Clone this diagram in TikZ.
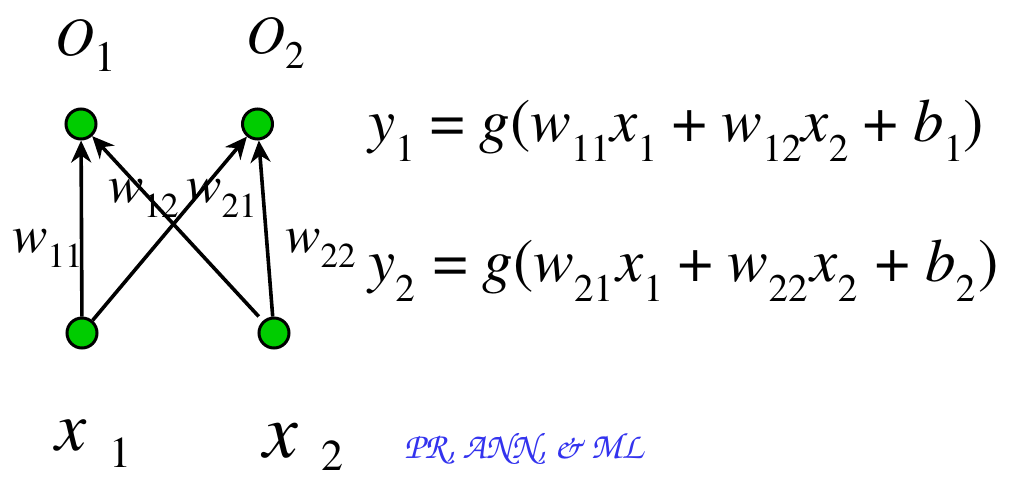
\documentclass[tikz,border=0pt]{standalone}
\usepackage{graphicx}
\usetikzlibrary{arrows.meta}
\definecolor{neurongreen}{RGB}{0,204,0}
\definecolor{signblue}{RGB}{51,51,238}
\newcommand{\tms}{\fontencoding{OT1}\fontfamily{ptm}\fontseries{m}\fontshape{n}\selectfont}
\newcommand{\chancery}{\fontencoding{OT1}\fontfamily{pzc}\fontseries{mb}\fontshape{it}\selectfont}
\newcommand{\eqsub}[1]{\raisebox{-0.34em}{\scalebox{0.64}{#1}}}
\newcommand{\eqsubw}[1]{\raisebox{-0.34em}{\scalebox{0.64}{#1}}\kern3pt\relax}
\newcommand{\lsub}[1]{\raisebox{-0.29em}{\scalebox{0.66}{#1}}}
\tikzset{
  neuron/.style={circle, draw=black, line width=3pt, fill=neurongreen, minimum size=30pt, inner sep=0pt},
  conn/.style={-{Stealth[length=22pt,width=20pt,inset=7pt]}, line width=3.6pt},
  lbl/.style={inner sep=0pt, anchor=base west, font=\tms\fontsize{54}{54}\selectfont},
  wlbl/.style={inner sep=0pt, anchor=base west, font=\tms\fontsize{53}{53}\selectfont},
  eq/.style={inner sep=0pt, anchor=base west, font=\tms\fontsize{61}{61}\selectfont},
}
\begin{document}
\begin{tikzpicture}[x=1pt,y=-1pt]
\useasboundingbox (0,0) rectangle (1009,477);
\node[neuron] (o1) at (81,124) {};
\node[neuron] (o2) at (257.5,124) {};
\node[neuron] (x1) at (82,333) {};
\node[neuron] (x2) at (274,333) {};
\draw[conn] (x1) -- (o1);
\draw[conn] (x1) -- (o2);
\draw[conn, shorten <=6pt] (x2) -- (o1);
\draw[conn] (x2) -- (o2);
\node[lbl] (lo1) at (55,55) {\textit{O}\raisebox{-0.31em}{\scalebox{0.8}{1}}};
\node[lbl] (lo2) at (246,53) {\textit{O}\raisebox{-0.28em}{\scalebox{0.72}{2}}};
\node[wlbl] (lw11) at (12,252) {\textit{w}\lsub{11}};
\node[wlbl] (lw12) at (108,202) {\textit{w}\lsub{12}};
\node[wlbl] (lw21) at (186,202) {\textit{w}\lsub{21}};
\node[wlbl] (lw22) at (285,252) {\textit{w}\lsub{22}};
\node[lbl, font=\tms\fontsize{70}{70}\selectfont] (lx1) at (55,450) {\textit{x}};
\node[lbl, font=\tms\fontsize{44}{44}\selectfont] (lx1s) at (109,467) {1};
\node[lbl, font=\tms\fontsize{78}{78}\selectfont] (lx2) at (263,457) {\textit{x}};
\node[lbl, font=\tms\fontsize{44}{44}\selectfont] (lx2s) at (321,470) {2};
\node[eq] (eq1) at (368,141) {\textit{y}\eqsub{1} = \textit{g}(\textit{w}\eqsub{11}\textit{x}\eqsub{1} + \textit{w}\eqsub{12}\textit{x}\eqsub{2} + \textit{b}\eqsub{1})};
\node[eq] (eq2) at (368,281) {\textit{y}\eqsubw{2} = \textit{g}(\textit{w}\eqsubw{21}\textit{x}\eqsub{1} + \textit{w}\eqsubw{22}\textit{x}\eqsubw{2} + \textit{b}\eqsubw{2})};
\node[inner sep=0pt, anchor=base west, text=signblue, font=\chancery\fontsize{37}{37}\selectfont] (sig) at (404,458) {PR, ANN, \& ML};
\end{tikzpicture}
\end{document}
